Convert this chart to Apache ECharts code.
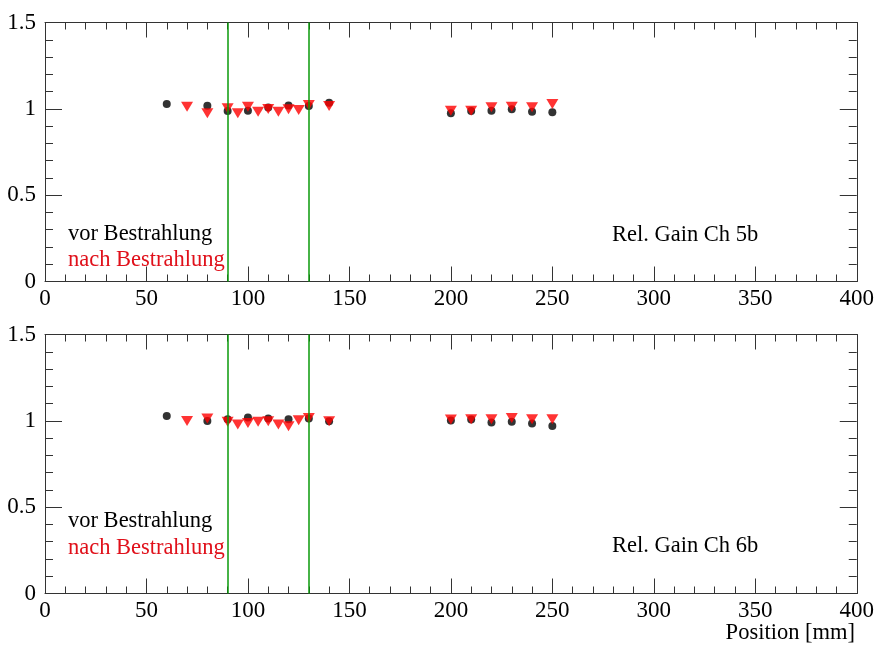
<!DOCTYPE html>
<html>
<head>
<meta charset="utf-8">
<script src="https://cdn.jsdelivr.net/npm/echarts@6/dist/echarts.min.js"></script>
<style>
html,body{margin:0;padding:0;background:#fff;}
#chart{width:877px;height:648px;}
</style>
</head>
<body>
<div id="chart"></div>
<script>
// Positions (mm)
var posVor  = [60, 80, 90, 100, 110, 120, 130, 140, 200, 210, 220, 230, 240, 250];
var posNach = [70, 80, 90, 95, 100, 105, 110, 115, 120, 125, 130, 140, 200, 210, 220, 230, 240, 250];
// Ch 5b
var ch5bVor  = [1.028, 1.018, 0.987, 0.989, 1.008, 1.020, 1.016, 1.035, 0.975, 0.988, 0.989, 0.997, 0.983, 0.980];
var ch5bNach = [1.012, 0.974, 1.003, 0.974, 1.012, 0.983, 0.999, 0.983, 0.997, 0.993, 1.022, 1.016, 0.989, 0.989, 1.009, 1.012, 1.009, 1.028];
// Ch 6b
var ch6bVor  = [1.028, 0.999, 1.009, 1.019, 1.013, 1.009, 1.013, 0.998, 1.002, 1.007, 0.990, 0.994, 0.984, 0.970];
var ch6bNach = [0.999, 1.013, 0.994, 0.979, 0.988, 0.994, 0.998, 0.979, 0.969, 1.003, 1.017, 0.998, 1.008, 1.009, 1.009, 1.017, 1.009, 1.009];
// Vertical marker lines
var markerLines = [90, 130];
var xTicks = {min: 0, max: 400, interval: 50};
var yTicks = {min: 0, max: 1.5, interval: 0.5};
var panelLabels = ['Rel. Gain Ch 5b', 'Rel. Gain Ch 6b'];
var legendLabels = ['vor Bestrahlung', 'nach Bestrahlung'];
var xTitle = 'Position [mm]';

function pairs(xs, ys) { return xs.map(function (x, i) { return [x, ys[i]]; }); }

var FONT = '"Liberation Serif", "Times New Roman", "DejaVu Serif", serif';
var AX = '#333';
var grids = [
  {left: 45, width: 813, top: 22.5, height: 259},
  {left: 45, width: 813, top: 334.5, height: 259}
];

var xAxes = [], yAxes = [], series = [];
grids.forEach(function (g, gi) {
  xAxes.push({
    gridIndex: gi, type: 'value', position: 'bottom', min: xTicks.min, max: xTicks.max, interval: xTicks.interval,
    axisLine: {show: true, onZero: false, lineStyle: {color: AX, width: 1}},
    axisTick: {show: true, inside: true, length: 15, lineStyle: {color: AX}},
    minorTick: {show: true, splitNumber: 5, length: 7, lineStyle: {color: AX}},
    splitLine: {show: false},
    axisLabel: {color: '#000', fontFamily: FONT, fontSize: 23, margin: 6}
  });
  xAxes.push({
    gridIndex: gi, type: 'value', position: 'top', min: xTicks.min, max: xTicks.max, interval: xTicks.interval,
    axisLine: {show: true, onZero: false, lineStyle: {color: AX, width: 1}},
    axisTick: {show: true, inside: true, length: 15, lineStyle: {color: AX}},
    minorTick: {show: true, splitNumber: 5, length: 7, lineStyle: {color: AX}},
    splitLine: {show: false},
    axisLabel: {show: false}
  });
  yAxes.push({
    gridIndex: gi, type: 'value', position: 'left', min: yTicks.min, max: yTicks.max, interval: yTicks.interval,
    axisLine: {show: true, onZero: false, lineStyle: {color: AX, width: 1}},
    axisTick: {show: true, inside: true, length: 17, lineStyle: {color: AX}},
    minorTick: {show: true, splitNumber: 5, length: 8, lineStyle: {color: AX}},
    splitLine: {show: false},
    axisLabel: {color: '#000', fontFamily: FONT, fontSize: 23, margin: 9}
  });
  yAxes.push({
    gridIndex: gi, type: 'value', position: 'right', min: yTicks.min, max: yTicks.max, interval: yTicks.interval,
    axisLine: {show: true, onZero: false, lineStyle: {color: AX, width: 1}},
    axisTick: {show: true, inside: true, length: 17, lineStyle: {color: AX}},
    minorTick: {show: true, splitNumber: 5, length: 8, lineStyle: {color: AX}},
    splitLine: {show: false},
    axisLabel: {show: false}
  });
});

var panels = [[ch5bVor, ch5bNach], [ch6bVor, ch6bNach]];
panels.forEach(function (p, gi) {
  series.push({
    type: 'scatter', xAxisIndex: gi * 2, yAxisIndex: gi * 2,
    data: pairs(posVor, p[0]), symbol: 'circle', symbolSize: 8,
    itemStyle: {color: '#000'}, silent: true, z: 3,
    markLine: {
      silent: true, symbol: ['none', 'none'], label: {show: false},
      lineStyle: {color: '#0a9a0a', width: 1.5, type: 'solid', opacity: 1},
      emphasis: {disabled: true},
      data: markerLines.map(function (v) { return {xAxis: v}; })
    }
  });
  series.push({
    type: 'scatter', xAxisIndex: gi * 2, yAxisIndex: gi * 2,
    data: pairs(posNach, p[1]), symbol: 'triangle', symbolRotate: 180, symbolSize: [12, 10],
    itemStyle: {color: '#ff0000'}, silent: true, z: 4
  });
});

var graphics = [];
var legendY = [[236, 262], [523, 550]];
var labelY = [237, 548];
var TFONT = '22.5px "Liberation Serif", "Times New Roman", serif';
[0, 1].forEach(function (gi) {
  graphics.push({type: 'text', left: 68, top: legendY[gi][0] - 13,
    style: {text: legendLabels[0], fill: '#000', font: TFONT}});
  graphics.push({type: 'text', left: 68, top: legendY[gi][1] - 13,
    style: {text: legendLabels[1], fill: '#e0101a', font: TFONT}});
  graphics.push({type: 'text', left: 612, top: labelY[gi] - 13,
    style: {text: panelLabels[gi], fill: '#000', font: TFONT}});
});
graphics.push({type: 'text', right: 22, top: 622,
  style: {text: xTitle, fill: '#000', font: TFONT}});

var chart = echarts.init(document.getElementById('chart'), null, {renderer: 'canvas'});
chart.setOption({
  animation: false,
  backgroundColor: '#fff',
  grid: grids,
  xAxis: xAxes,
  yAxis: yAxes,
  series: series,
  graphic: graphics
});
</script>
</body>
</html>
